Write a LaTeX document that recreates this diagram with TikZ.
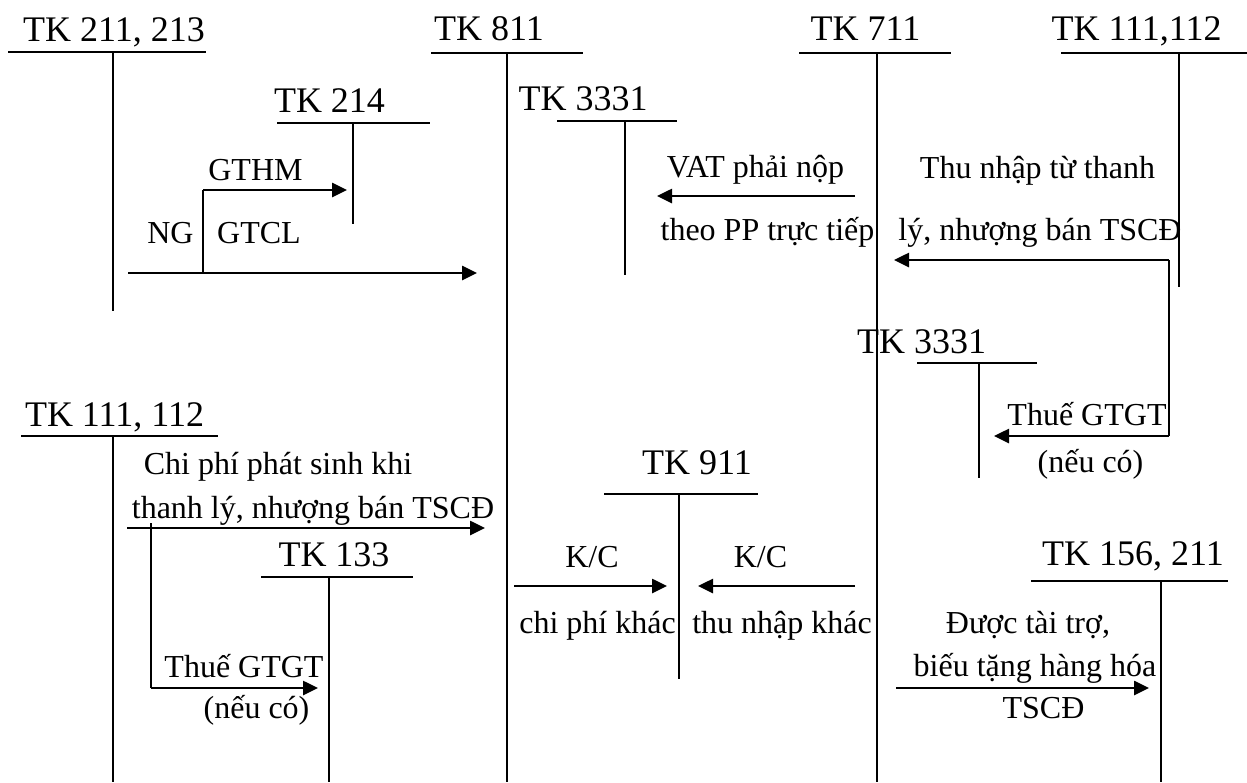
\documentclass[tikz,border=0pt]{standalone}
\usepackage{fontspec}
\setmainfont{Liberation Serif}
\usetikzlibrary{arrows.meta}
\begin{document}
\begin{tikzpicture}[x=1pt,y=-1pt,
  hdr/.style={font=\fontsize{36}{40}\selectfont, inner sep=0pt, anchor=base},
  lbl/.style={font=\fontsize{32}{36}\selectfont, inner sep=0pt, anchor=base},
  acct/.style={line width=1.6pt},
  arr/.style={line width=2.6pt, -{Triangle[length=15pt,width=14pt]}},
  link/.style={line width=2pt}]
\useasboundingbox (0,0) rectangle (1247,782);
% ---------- account headers ----------
\node[hdr] (h1) at (114,41) {TK 211, 213};
\node[hdr] (h2) at (329.5,112) {TK 214};
\node[hdr] (h3) at (489,40) {TK 811};
\node[hdr] (h4) at (583,110) {TK 3331};
\node[hdr] (h5) at (865.5,40) {TK 711};
\node[hdr] (h6) at (1136.5,40) {TK 111,112};
\node[hdr] (h7) at (921.5,353) {TK 3331};
\node[hdr] (h8) at (697,474) {TK 911};
\node[hdr] (h9) at (1133,565) {TK 156, 211};
\node[hdr] (h10) at (114.5,426) {TK 111, 112};
\node[hdr] (h11) at (334,566) {TK 133};
% ---------- T-account coordinates ----------
\coordinate (a1l) at (8,52);    \coordinate (a1r) at (206,52);  \coordinate (a1t) at (113,52);  \coordinate (a1b) at (113,311);
\coordinate (a2l) at (277,123); \coordinate (a2r) at (430,123); \coordinate (a2t) at (353,123); \coordinate (a2b) at (353,224);
\coordinate (a3l) at (431,53);  \coordinate (a3r) at (583,53);  \coordinate (a3t) at (507,53);  \coordinate (a3b) at (507,782);
\coordinate (a4l) at (557,121); \coordinate (a4r) at (677,121); \coordinate (a4t) at (625,121); \coordinate (a4b) at (625,275);
\coordinate (a5l) at (799,53);  \coordinate (a5r) at (951,53);  \coordinate (a5t) at (877,53);  \coordinate (a5b) at (877,782);
\coordinate (a6l) at (1061,53); \coordinate (a6r) at (1247,53); \coordinate (a6t) at (1179,53); \coordinate (a6b) at (1179,287);
\coordinate (a7l) at (917,363); \coordinate (a7r) at (1037,363);\coordinate (a7t) at (979,363); \coordinate (a7b) at (979,478);
\coordinate (a8l) at (604,494); \coordinate (a8r) at (758,494); \coordinate (a8t) at (679,494); \coordinate (a8b) at (679,679);
\coordinate (a9l) at (1031,581);\coordinate (a9r) at (1228,581);\coordinate (a9t) at (1161,581);\coordinate (a9b) at (1161,782);
\coordinate (a10l) at (21,436); \coordinate (a10r) at (218,436); \coordinate (a10t) at (113,436); \coordinate (a10b) at (113,782);
\coordinate (a11l) at (261,577);\coordinate (a11r) at (413,577); \coordinate (a11t) at (329,577); \coordinate (a11b) at (329,782);
\foreach \i in {1,...,11} {
  \draw[acct] (a\i l) -- (a\i r);
  \draw[acct] (a\i t) -- (a\i b);
}
% ---------- labels ----------
\node[lbl] (l1) at (255.5,180) {GTHM};
\node[lbl] (l2) at (170.5,243) {NG};
\node[lbl] (l3) at (259,243) {GTCL};
\node[lbl] (l4) at (755.5,177) {VAT phải nộp};
\node[lbl] (l5) at (767.5,240) {theo PP trực tiếp};
\node[lbl] (l6) at (1037.5,178) {Thu nhập từ thanh};
\node[lbl] (l7) at (1040,240) {lý, nhượng bán TSCĐ};
\node[lbl] (l8) at (1087,425) {Thuế GTGT};
\node[lbl] (l9) at (1090.5,472) {(nếu có)};
\node[lbl] (l10) at (592,567) {K/C};
\node[lbl] (l11) at (760.5,567) {K/C};
\node[lbl] (l12) at (597.5,633) {chi phí khác};
\node[lbl] (l13) at (782,633) {thu nhập khác};
\node[lbl] (l14) at (1028,633) {Được tài trợ,};
\node[lbl] (l15) at (1035,676) {biếu tặng hàng hóa};
\node[lbl] (l16) at (1043.5,718) {TSCĐ};
\node[lbl] (l17) at (278,474) {Chi phí phát sinh khi};
\node[lbl] (l18) at (313,518) {thanh lý, nhượng bán TSCĐ};
\node[lbl] (l19) at (244,677) {Thuế GTGT};
\node[lbl] (l20) at (256.5,718) {(nếu có)};
% ---------- connectors ----------
\coordinate (m1s) at (128,273); \coordinate (m1e) at (477,273);
\coordinate (m1j) at (203,273); \coordinate (m1k) at (203,190); \coordinate (m1g) at (347,190);
\draw[arr] (m1s) -- (m1e);
\draw[link] (m1j) -- (m1k);
\draw[arr] (m1k) -- (m1g);

\coordinate (vs) at (855,196); \coordinate (ve) at (657,196);
\draw[arr] (vs) -- (ve);

\coordinate (is) at (1169,260); \coordinate (ie) at (894,260);
\coordinate (ik) at (1169,436); \coordinate (ig) at (994,436);
\draw[arr] (is) -- (ie);
\draw[link] (is) -- (ik);
\draw[arr] (ik) -- (ig);

\coordinate (k1s) at (514,586); \coordinate (k1e) at (667,586);
\coordinate (k2s) at (855,586); \coordinate (k2e) at (698,586);
\draw[arr] (k1s) -- (k1e);
\draw[arr] (k2s) -- (k2e);

\coordinate (ds) at (896,688); \coordinate (de) at (1149,688);
\draw[arr] (ds) -- (de);

\coordinate (cs) at (127,528); \coordinate (ce) at (485,528);
\coordinate (cj) at (151,523); \coordinate (ck) at (151,688); \coordinate (cg) at (318,688);
\draw[arr] (cs) -- (ce);
\draw[link] (cj) -- (ck);
\draw[arr] (ck) -- (cg);
\end{tikzpicture}
\end{document}
